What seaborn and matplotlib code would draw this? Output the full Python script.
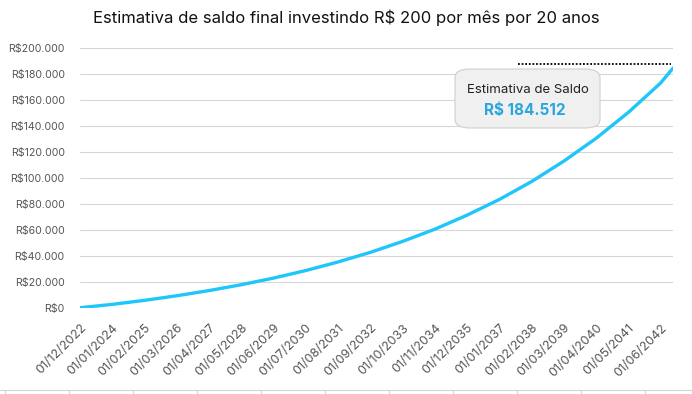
import matplotlib
matplotlib.use("Agg")
import matplotlib.pyplot as plt
import seaborn as sns
import pandas as pd
from matplotlib.patches import FancyBboxPatch
from matplotlib.lines import Line2D
from matplotlib.ticker import FuncFormatter

# ---- data ----
tick_labels = ["01/12/2022", "01/01/2024", "01/02/2025", "01/03/2026", "01/04/2027",
               "01/05/2028", "01/06/2029", "01/07/2030", "01/08/2031", "01/09/2032",
               "01/10/2033", "01/11/2034", "01/12/2035", "01/01/2037", "01/02/2038",
               "01/03/2039", "01/04/2040", "01/05/2041", "01/06/2042"]
point_dates = tick_labels + ["01/11/2042"]
saldo = [200, 2800, 5900, 9400, 13400, 17900, 23000, 28800, 35400, 42800,
         51200, 60600, 71400, 83500, 97300, 112900, 130500, 150400, 173000, 184512]
y_ticks = [0, 20000, 40000, 60000, 80000, 100000, 120000, 140000, 160000, 180000, 200000]
title = "Estimativa de saldo final investindo R$ 200 por mês por 20 anos"
tooltip_title = "Estimativa de Saldo"
tooltip_value = "R$ 184.512"

df = pd.DataFrame({"data": pd.to_datetime(point_dates, format="%d/%m/%Y"),
                   "saldo": saldo})
tick_dates = pd.to_datetime(tick_labels, format="%d/%m/%Y")

sns.set_theme(style="white")
plt.rcParams["font.family"] = ["Inter", "DejaVu Sans"]

fig = plt.figure(figsize=(6.92, 3.94), dpi=100)
ax = fig.add_axes([80/692, 1-308/394, 593/692, 260/394])

sns.lineplot(data=df, x="data", y="saldo", ax=ax, color="#1FC6FA", linewidth=2.4)

ax.set_xlim(df["data"].iloc[0], df["data"].iloc[-1])
ax.set_ylim(0, 200000)
ax.set_yticks(y_ticks)
ax.yaxis.set_major_formatter(FuncFormatter(lambda v, p: "R$" + f"{int(v):,}".replace(",", ".")))
ax.set_xticks(tick_dates)
ax.set_xticklabels(tick_labels, rotation=45, ha="right", rotation_mode="anchor")
ax.tick_params(axis="x", colors="#555555", labelsize=9, length=0, pad=10)
ax.tick_params(axis="y", colors="#555555", labelsize=7.6, length=0, pad=11)
ax.grid(axis="y", color="#d6d6d6", linewidth=0.8)
ax.grid(axis="x", visible=False)
for s in ax.spines.values():
    s.set_visible(False)
ax.set_xlabel("")
ax.set_ylabel("")

# dotted line at top right
ax.axhline(187700, xmin=(518-80)/593, xmax=(671-80)/593, color="black",
           linestyle=(0, (1, 1)), linewidth=1.3)

fig.text(346/692, 1-18/394, title, ha="center", va="center", fontsize=12, color="#111111")

box = FancyBboxPatch((455/692, 1-128/394), 145/692, 59/394,
                     boxstyle="round,pad=0,rounding_size=0.022",
                     transform=fig.transFigure, facecolor="#f0f0f0",
                     edgecolor="#cfcfcf", linewidth=0.8, zorder=5)
fig.add_artist(box)
fig.text(528/692, 1-90/394, tooltip_title, ha="center", va="center",
         fontsize=9.5, color="#222222", zorder=6)
fig.text(525/692, 1-110/394, tooltip_value, ha="center", va="center",
         fontsize=11, fontweight="bold", color="#29A6DE", zorder=6)

# faint ruler line at the bottom edge
yb = 1 - 390/394
fig.add_artist(Line2D([0, 1], [yb, yb], transform=fig.transFigure,
                      color="#d4d4d4", linewidth=0.8))
for px in range(5, 692, 64):
    fig.add_artist(Line2D([px/692, px/692], [yb, yb - 4/394], transform=fig.transFigure,
                          color="#d4d4d4", linewidth=0.8))

fig.savefig("out.png", dpi=100)
